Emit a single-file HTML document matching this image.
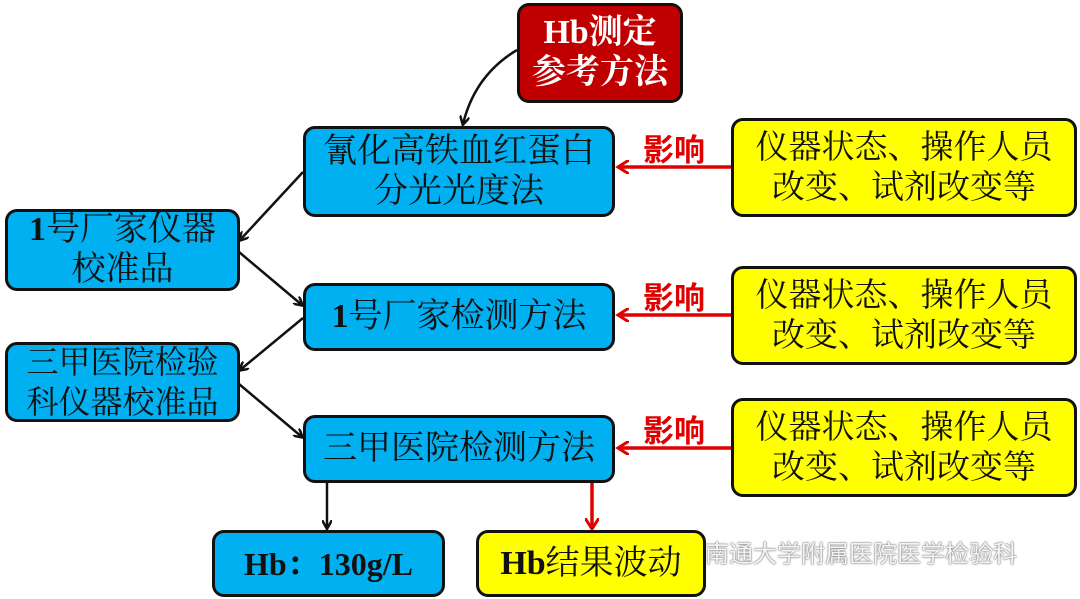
<!DOCTYPE html>
<html><head><meta charset="utf-8"><style>
body{margin:0;width:1080px;height:599px;background:#fff;position:relative;overflow:hidden;font-family:"Liberation Serif","Noto Serif CJK SC","Noto Sans CJK SC",serif;}
.b{position:absolute;box-sizing:border-box;border:3px solid #111;border-radius:12px;display:flex;align-items:center;justify-content:center;text-align:center;font-size:34px;line-height:40px;color:#111;white-space:nowrap;}
.bl{background:#00b0f0;}
.y{background:#ffff00;font-size:33px;}
.r{background:#c00000;color:#fff;font-weight:bold;}
.l{position:absolute;color:#e00000;font-size:31px;font-weight:bold;font-family:"Noto Sans CJK SC",sans-serif;}
svg{position:absolute;left:0;top:0;}
</style></head><body>
<svg width="1080" height="599">
<defs>
<marker id="k" markerWidth="10" markerHeight="10" refX="8" refY="5" orient="auto" markerUnits="userSpaceOnUse"><path d="M0,0 L9,5 L0,10" fill="none" stroke="#111" stroke-width="2.5"/></marker>
<marker id="rd" markerWidth="14" markerHeight="14" refX="10" refY="7" orient="auto" markerUnits="userSpaceOnUse"><path d="M0,0 L11,7 L0,14" fill="none" stroke="#e00000" stroke-width="3"/></marker>
</defs>
<g stroke="#111" stroke-width="2.5" fill="none">
<path d="M517,50 Q475,75 463,124" marker-end="url(#k)"/>
<path d="M303,172 L240,240" marker-end="url(#k)"/>
<path d="M239,252 L302,305" marker-end="url(#k)"/>
<path d="M303,318 L240,370" marker-end="url(#k)"/>
<path d="M239,384 L302,437" marker-end="url(#k)"/>
<path d="M327,482 L327,528" marker-end="url(#k)"/>
</g>
<g stroke="#e00000" stroke-width="3.5" fill="none">
<path d="M731,167 L619,167" marker-end="url(#rd)"/>
<path d="M731,315 L619,315" marker-end="url(#rd)"/>
<path d="M731,448 L619,448" marker-end="url(#rd)"/>
<path d="M592,482 L592,528" marker-end="url(#rd)"/>
</g>
</svg>
<div class="b r" style="left:517px;top:3px;width:166px;height:100px;">Hb测定<br>参考方法</div>
<div class="b bl" style="left:303px;top:126px;width:312px;height:91px;">氰化高铁血红蛋白<br>分光光度法</div>
<div class="b bl" style="left:5px;top:209px;width:235px;height:82px;"><span><b>1</b>号厂家仪器<br>校准品</span></div>
<div class="b bl" style="left:303px;top:283px;width:312px;height:68px;"><span><b>1</b>号厂家检测方法</span></div>
<div class="b bl" style="left:5px;top:342px;width:235px;height:80px;font-size:32px;">三甲医院检验<br>科仪器校准品</div>
<div class="b bl" style="left:303px;top:415px;width:312px;height:68px;">三甲医院检测方法</div>
<div class="b bl" style="left:212px;top:530px;width:233px;height:67px;font-weight:bold;font-size:32px;">Hb：130g/L</div>
<div class="b y" style="left:476px;top:530px;width:230px;height:67px;font-size:34px;"><span><b>Hb</b>结果波动</span></div>
<div class="b y" style="left:731px;top:118px;width:346px;height:99px;">仪器状态、操作人员<br>改变、试剂改变等</div>
<div class="b y" style="left:731px;top:266px;width:346px;height:99px;">仪器状态、操作人员<br>改变、试剂改变等</div>
<div class="b y" style="left:731px;top:398px;width:346px;height:99px;">仪器状态、操作人员<br>改变、试剂改变等</div>
<div class="l" style="left:643px;top:125px;">影响</div>
<div class="l" style="left:643px;top:273px;">影响</div>
<div class="l" style="left:643px;top:406px;">影响</div>
<div style="position:absolute;left:705px;top:534px;font-size:24px;color:#f4f4f4;text-shadow:0 0 2px #777,0 0 1px #555;font-family:'Noto Sans CJK SC',sans-serif;">南通大学附属医院医学检验科</div>
</body></html>
